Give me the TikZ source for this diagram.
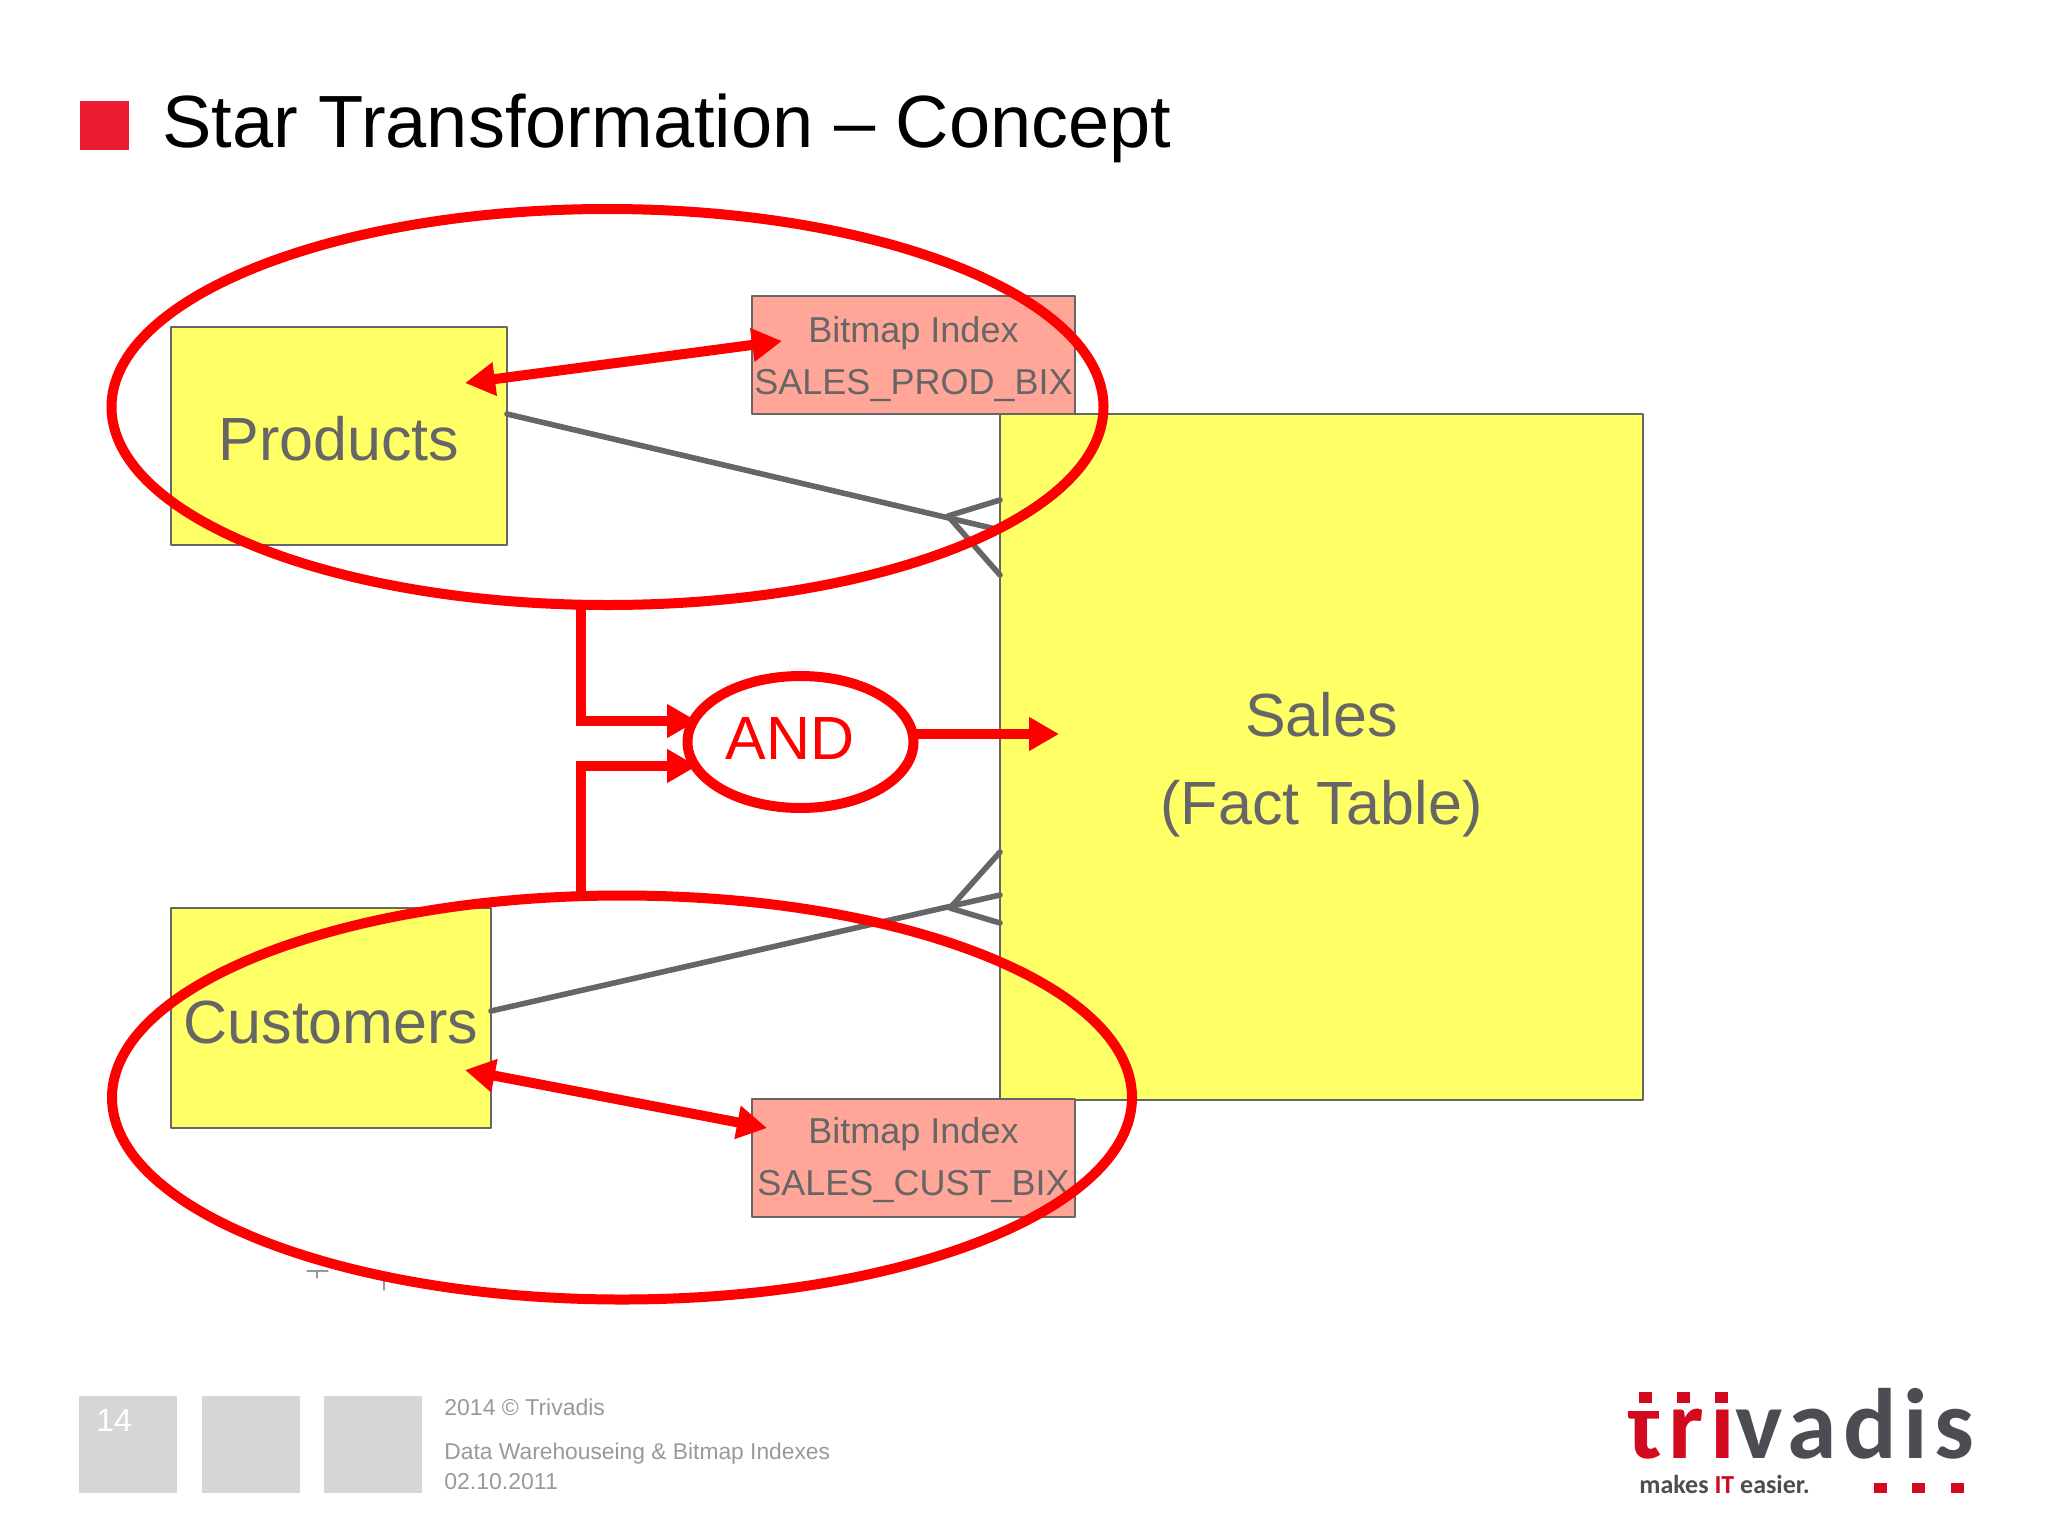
\documentclass[tikz,border=0pt]{standalone}
\usepackage{fontspec}
\usepackage{tikz}
\usetikzlibrary{arrows.meta,shapes.geometric}
\setmainfont{Liberation Sans}
\newfontfamily\logofont[LetterSpace=6.5]{Carlito}
\newfontfamily\sloganfont{Carlito}
\newcommand{\toppad}[1]{\rule{0pt}{#1}}
\definecolor{ffff66}{rgb}{1.,1.,0.4}
\definecolor{ffa699}{rgb}{1.,0.65,0.6}
\definecolor{ff0000}{rgb}{1.,0.,0.}
\definecolor{ee1c34}{rgb}{0.93,0.11,0.2}
\definecolor{d6d6d6}{rgb}{0.84,0.84,0.84}
\definecolor{qq6666}{rgb}{0.4,0.4,0.4}
\definecolor{nn9999}{rgb}{0.6,0.6,0.6}
\definecolor{dd0a1e}{rgb}{0.82,0.04,0.12}
\definecolor{qq4d4d}{rgb}{0.3,0.3,0.32}
\tikzset{
  tablebox/.style={draw=qq6666,line width=0.7pt,fill=ffff66,text=qq6666,inner sep=0pt,
    font=\fontsize{30.5}{44}\selectfont,align=center},
  indexbox/.style={draw=qq6666,line width=0.7pt,fill=ffa699,text=qq6666,inner sep=0pt,
    font=\fontsize{18}{26}\selectfont,align=center,minimum width=161.5pt,minimum height=59pt},
  redring/.style={draw=ff0000,line width=5pt,ellipse,inner sep=0pt,outer sep=0pt},
  redpath/.style={draw=ff0000,line width=5pt,line cap=butt,line join=miter},
  relation/.style={draw=qq6666,line width=2.8pt},
  greybox/.style={fill=d6d6d6,minimum width=49pt,minimum height=48.5pt,inner sep=0pt},
  footertext/.style={text=nn9999,anchor=base west,inner sep=0pt,font=\fontsize{11.5}{14}\selectfont}
}
\begin{document}
\begin{tikzpicture}[line cap=round,line join=round,>={Triangle[length=15pt,width=16pt]},x=0.5pt,y=-0.5pt]
\useasboundingbox (0,0) rectangle (2048,1536);
\fill [ee1c34] (80,101) rectangle (129,150);
\node (title) [anchor=base west,inner sep=0pt,font=\fontsize{37}{44}\selectfont] at (162,148) {Star Transformation -- Concept};
\node (products) [tablebox,minimum width=168pt,minimum height=109pt] at (339,436) {\toppad{24.3pt}Products};
\node (customers) [tablebox,minimum width=160pt,minimum height=110pt] at (331,1018) {\toppad{26pt}Customers};
\node (sales) [tablebox,minimum width=321.5pt,minimum height=343pt] at (1321.5,757) {\toppad{29.5pt}Sales\\(Fact Table)};
\node (prodindex) [indexbox] at (913.5,355) {\toppad{17.1pt}Bitmap Index\\SALES\_PROD\_BIX};
\node (custindex) [indexbox] at (913.5,1158) {\toppad{14.6pt}Bitmap Index\\SALES\_CUST\_BIX};
\coordinate (prodfrom) at (507,414);
\coordinate (prodfoot) at (948,516);
\coordinate (prodA) at (1000,500);
\coordinate (prodB) at (1000,530);
\coordinate (prodC) at (1000,575);
\coordinate (custfrom) at (491,1011);
\coordinate (custfoot) at (950,908);
\coordinate (custA) at (1000,852);
\coordinate (custB) at (1000,895);
\coordinate (custC) at (1000,923);
\draw [relation] (prodfrom) -- (prodB);
\draw [relation] (prodA) -- (prodfoot) -- (prodC);
\draw [relation] (custfrom) -- (custB);
\draw [relation] (custA) -- (custfoot) -- (custC);
\draw [nn9999,line width=0.6pt] (307,1271) -- (328,1271) (317,1271) -- (317,1278) (384,1281) -- (384,1290) (384,1281) -- (400,1281);
\node (prodring) [redring,minimum width=496pt,minimum height=198pt] at (607.5,407) {};
\node (custring) [redring,minimum width=510pt,minimum height=202pt] at (622,1097.5) {};
\coordinate (prodout) at (581,603);
\coordinate (custout) at (581,893);
\coordinate (andinA) at (697,721);
\coordinate (andinB) at (697,766);
\coordinate (andout) at (915,734);
\coordinate (salesin) at (1059,734);
\draw [redpath,->] (prodout) |- (andinA);
\draw [redpath,->] (custout) |- (andinB);
\draw [redpath,->] (andout) -- (salesin);
\node (andring) [redring,fill=white,minimum width=113pt,minimum height=66pt] at (800.5,742) {};
\node (andlabel) [text=ff0000,inner sep=0pt,font=\fontsize{30.5}{36}\selectfont] at (790,739) {AND};
\coordinate (prodtip) at (465,383);
\coordinate (prodidx) at (782,341);
\coordinate (custtip) at (465,1070);
\coordinate (custidx) at (767,1128);
\draw [redpath,<->] (prodtip) -- (prodidx);
\draw [redpath,<->] (custtip) -- (custidx);
\node (pageA) [greybox] at (128,1444.5) {};
\node (pageB) [greybox] at (250.5,1444.5) {};
\node (pageC) [greybox] at (373,1444.5) {};
\node (pagenum) [anchor=base west,inner sep=0pt,text=white,font=\fontsize{16}{18}\selectfont] at (96,1431) {14};
\node (copyright) [footertext] at (444,1415) {2014 © Trivadis};
\node (talk) [footertext,font=\fontsize{11.4}{14}\selectfont] at (444,1459) {Data Warehouseing \& Bitmap Indexes};
\node (date) [footertext] at (444,1489) {02.10.2011};
\node (logoname) [anchor=base west,inner sep=0pt,font=\logofont\bfseries\fontsize{50}{56}\selectfont] at (1627,1458) {\textcolor{dd0a1e}{tr\i}\textcolor{qq4d4d}{vadis}};
\node (logoline) [anchor=base west,inner sep=0pt,text=qq4d4d,font=\sloganfont\bfseries\fontsize{13}{15}\selectfont] at (1639,1493) {makes \textcolor{dd0a1e}{IT} easier.};
\fill [white] (1625,1385) rectangle (1668,1411);
\foreach \x in {1639,1677,1715}
  \fill [dd0a1e] (\x,1392) rectangle ++(13,11);
\foreach \x in {1874,1912,1951}
  \fill [dd0a1e] (\x,1483) rectangle ++(13,10);
\end{tikzpicture}
\end{document}
